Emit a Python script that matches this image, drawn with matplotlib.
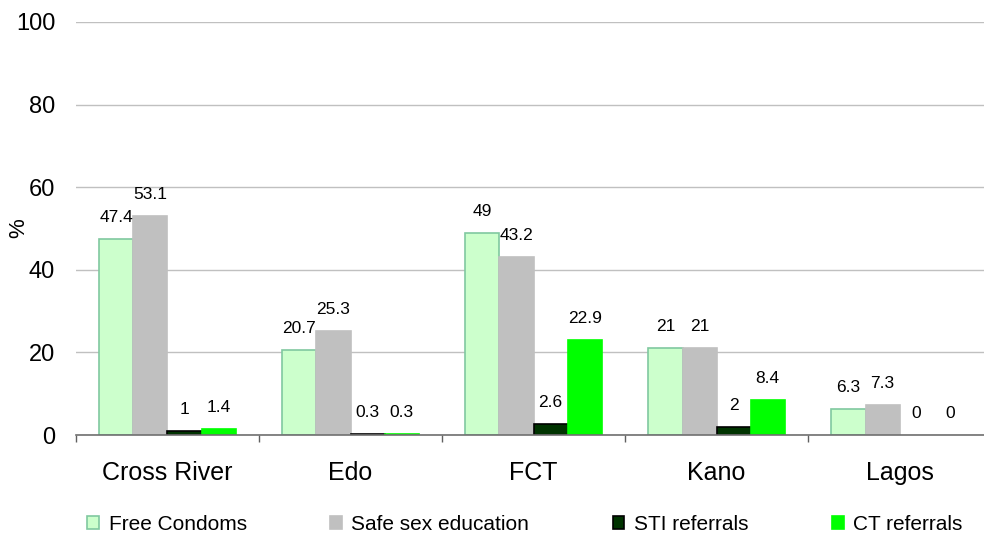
import numpy as np
import matplotlib.pyplot as plt

plt.rcParams['font.family'] = ['Liberation Sans', 'DejaVu Sans']

states = ['Cross River', 'Edo', 'FCT', 'Kano', 'Lagos']
free_condoms = [47.4, 20.7, 49, 21, 6.3]
safe_sex = [53.1, 25.3, 43.2, 21, 7.3]
sti_referrals = [1, 0.3, 2.6, 2, 0]
ct_referrals = [1.4, 0.3, 22.9, 8.4, 0]

series = [
    ('Free Condoms', free_condoms, '#CCFFCC', '#80C8A0'),
    ('Safe sex education', safe_sex, '#C0C0C0', '#C0C0C0'),
    ('STI referrals', sti_referrals, '#003300', '#000000'),
    ('CT referrals', ct_referrals, '#00FF00', '#00FF00'),
]

fig = plt.figure(figsize=(9.84, 5.35), dpi=100)
# plot area runs a bit past the right edge, like the original export
ax = fig.add_axes([0.0772, 0.1869, 0.930, 0.772])

x = np.arange(len(states))
w = 0.186
for i, (name, vals, fc, ec) in enumerate(series):
    pos = x + (i - 1.5) * w
    # no outline on zero-height bars
    lw = [1.2 if v else 0 for v in vals]
    ax.bar(pos, vals, width=w, color=fc, edgecolor=ec, linewidth=lw, label=name, zorder=2)
    for p, v in zip(pos, vals):
        ax.text(p, v + 5.2, f'{v:g}', ha='center', va='center', fontsize=12.5)

ax.set_xlim(-0.5, len(states) - 0.5)
ax.set_ylim(0, 100)
ax.set_yticks([0, 20, 40, 60, 80, 100])
ax.tick_params(axis='y', length=0, labelsize=17, pad=15)
ax.set_xticks(x)
ax.set_xticklabels(states, fontsize=18)
ax.tick_params(axis='x', length=0, pad=19)
ax.set_xticks(np.arange(len(states) + 1) - 0.5, minor=True)
ax.tick_params(axis='x', which='minor', length=5, width=1, direction='out', color='#606060')
ax.grid(axis='y', color='#C0C0C0', linewidth=1, zorder=0)
for s in ['top', 'right', 'left']:
    ax.spines[s].set_visible(False)
ax.spines['bottom'].set_color('#707070')
ax.spines['bottom'].set_linewidth(1.2)
ax.set_ylabel('%', fontsize=16, va='center')
ax.yaxis.set_label_coords(-0.063, 0.5)

ax.legend(loc='center left', bbox_to_anchor=(77 / 984, 1 - 524 / 535),
          bbox_transform=fig.transFigure, ncol=4, frameon=False, borderpad=0,
          fontsize=15, handlelength=0.57, handleheight=0.57, columnspacing=4.0,
          handletextpad=0.45)

fig.savefig('out.png', dpi=100)
